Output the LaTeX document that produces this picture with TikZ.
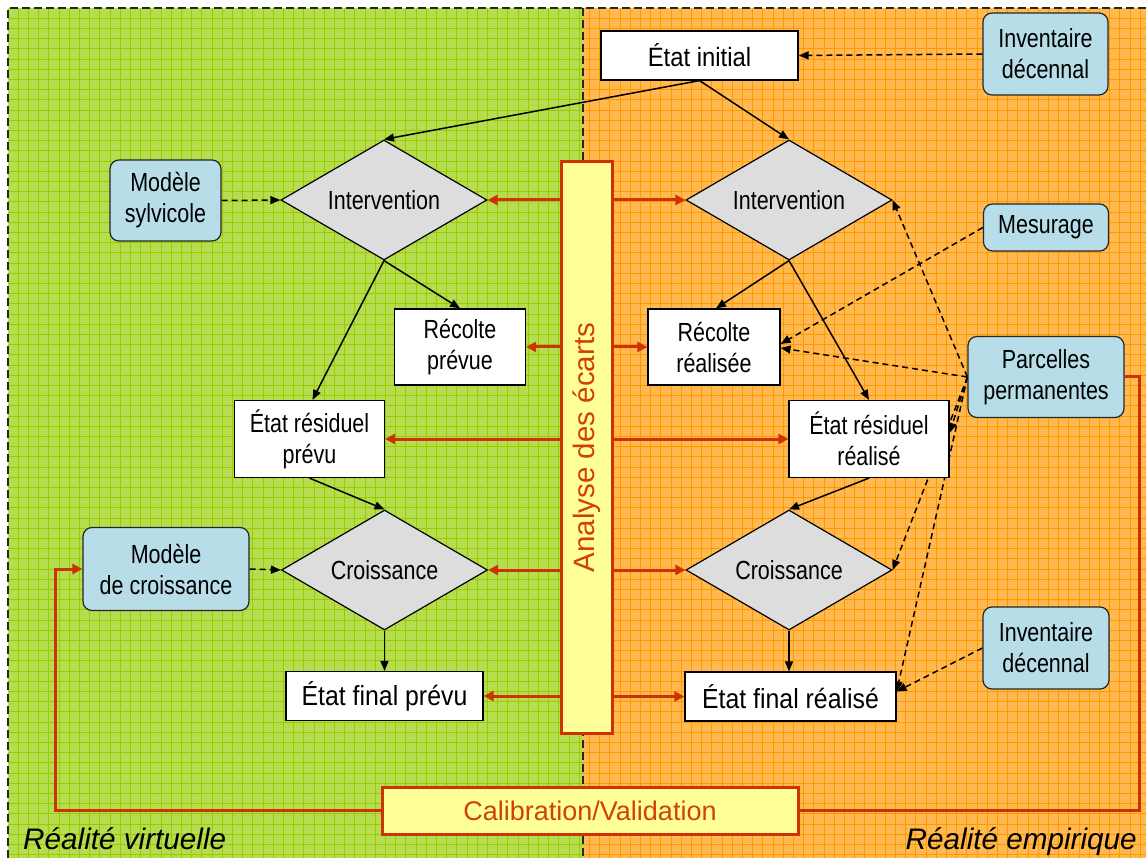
\documentclass[tikz,border=0pt]{standalone}
\usepackage{fontspec}
\setmainfont{Liberation Sans}
\newfontfamily\narsans[FakeStretch=0.82]{Liberation Sans}
\newfontfamily\midsans[FakeStretch=0.9]{Liberation Sans}
\usetikzlibrary{shapes.geometric,arrows.meta,calc}
\definecolor{gbg}{RGB}{182,220,80}
\definecolor{gline}{RGB}{153,204,0}
\definecolor{obg}{RGB}{255,185,80}
\definecolor{oline}{RGB}{255,153,0}
\definecolor{rred}{RGB}{204,51,0}
\definecolor{ytxt}{RGB}{210,64,10}
\definecolor{yel}{RGB}{255,255,153}
\definecolor{lblue}{RGB}{183,222,232}
\definecolor{dgrey}{RGB}{221,221,221}
\definecolor{bord}{RGB}{40,40,20}
\pgfdeclarelayer{bg}
\pgfdeclarelayer{edges}
\pgfsetlayers{bg,edges,main}
\tikzset{
  box/.style={draw=black, fill=white, line width=1.2pt, align=center, inner sep=2pt,
    font=\narsans\fontsize{26.2}{31}\selectfont},
  rbox/.style={box, fill=lblue, rounded corners=9pt, draw=black!85},
  dia/.style={diamond, shape aspect=2, draw=black, fill=dgrey, line width=1.2pt, inner sep=0pt,
    minimum width=206pt, minimum height=120pt, font=\narsans\fontsize{26.2}{30}\selectfont},
  ybox/.style={draw=rred, fill=yel, line width=3pt, inner sep=0pt, text=ytxt},
  arr/.style={draw=black, line width=1.5pt, -{Triangle[length=10pt,width=8pt]}},
  darr/.style={arr, dash pattern=on 6pt off 4pt},
  rarr/.style={draw=rred, line width=3pt, -{Triangle[length=10pt,width=10pt]}},
  rline/.style={draw=rred, line width=3pt},
  divider/.style={draw=bord, line width=1.5pt, dash pattern=on 8pt off 4pt},
  lbl/.style={font=\fontsize{29.7}{32}\selectfont\itshape, inner sep=0pt}
}
\begin{document}
\begin{tikzpicture}[x=1pt,y=-1pt]
\useasboundingbox (0,0) rectangle (1146,858);

% ---------- background ----------
\begin{pgfonlayer}{bg}
\fill[white] (0,0) rectangle (1146,858);
\begin{scope}
  \clip (8,8) rectangle (583,858);
  \fill[gbg] (8,8) rectangle (583,858);
  \foreach \i in {1,...,57} \draw[gline, line width=0.9pt] ({8+10.2*\i},8) -- ({8+10.2*\i},858);
  \foreach \i in {1,...,84} \draw[gline, line width=0.9pt] (8,{8+10.2*\i}) -- (583,{8+10.2*\i});
\end{scope}
\begin{scope}
  \clip (583,8) rectangle (1146,858);
  \fill[obg] (583,8) rectangle (1146,858);
  \foreach \i in {56,...,112} \draw[oline, line width=0.9pt] ({8+10.2*\i},8) -- ({8+10.2*\i},858);
  \foreach \i in {1,...,84} \draw[oline, line width=0.9pt] (583,{8+10.2*\i}) -- (1146,{8+10.2*\i});
\end{scope}
\draw[divider] (8,858) -- (8,8) -- (1146,8);
\draw[divider] (583,8) -- (583,858);
\end{pgfonlayer}

% ---------- nodes ----------
\node[box, minimum width=197pt, minimum height=49pt, font=\midsans\fontsize{26.5}{30}\selectfont] (etatI) at (699.5,55.5) {État initial};
\node[rbox, minimum width=125pt, minimum height=82pt] (invT) at (1045.5,54) {Inventaire\\décennal};
\node[dia] (intL) at (384,200) {Intervention};
\node[dia] (intR) at (789,200) {Intervention};
\node[rbox, minimum width=111pt, minimum height=81pt] (msyl) at (165.5,200.5) {Modèle\\sylvicole};
\node[rbox, minimum width=125pt, minimum height=47pt] (mes) at (1046,227.5) {Mesurage};
\node[ybox, minimum width=51pt, minimum height=571pt] (ana) at (587,447.5) {};
\node[rotate=90, text=ytxt, font=\fontsize{29.5}{32}\selectfont, inner sep=0pt] (anatxt) at (ana.center) {Analyse des écarts};
\node[box, minimum width=131pt, minimum height=76pt] (recP) at (460,347) {Récolte\\prévue};
\node[box, minimum width=132pt, minimum height=76pt] (recR) at (714,347) {Récolte\\réalisée};
\node[box, minimum width=150pt, minimum height=77pt] (resP) at (309.5,439) {État résiduel\\prévu};
\node[box, minimum width=160pt, minimum height=77pt] (resR) at (869,439) {État résiduel\\réalisé};
\node[rbox, minimum width=156pt, minimum height=81pt] (parc) at (1046,377) {Parcelles\\permanentes};
\node[dia] (croL) at (384.5,570) {Croissance};
\node[dia] (croR) at (789,570) {Croissance};
\node[rbox, minimum width=166pt, minimum height=83pt] (mcro) at (166,569) {Modèle\\de croissance};
\node[rbox, minimum width=126pt, minimum height=82pt] (invB) at (1046,648) {Inventaire\\décennal};
\node[box, minimum width=197pt, minimum height=49pt, font=\midsans\fontsize{27.6}{30}\selectfont] (finP) at (384.5,696) {État final prévu};
\node[box, minimum width=211pt, minimum height=49pt, font=\midsans\fontsize{27.6}{30}\selectfont] (finR) at (790.5,696.5) {État final réalisé};
\node[ybox, minimum width=416pt, minimum height=47pt, font=\fontsize{27}{30}\selectfont] (calib) at (590,810.5) {Calibration/Validation};
\node[lbl, anchor=base west] (lv) at (23,849) {Réalité virtuelle};
\node[lbl, anchor=base east] (le) at (1137,849) {Réalité empirique};

\coordinate (cl1) at (55,810.5);
\coordinate (cl2) at (55,569);
\coordinate (cr1) at (1139,810.5);
\coordinate (cr2) at (1139,377);

% ---------- connectors ----------
\begin{pgfonlayer}{edges}
% solid flow
\draw[arr] (etatI.south) -- (intL.north);
\draw[arr] (etatI.south) -- (intR.north);
\draw[arr] (intL.south) -- (recP.north);
\draw[arr] (intL.south) -- ([xshift=3pt]resP.north);
\draw[arr] (intR.south) -- ([xshift=2pt]recR.north);
\draw[arr] (intR.south) -- (resR.north);
\draw[arr] (resP.south) -- (croL.north);
\draw[arr] (resR.south) -- (croR.north);
\draw[arr] (croL.south) -- (finP.north);
\draw[arr] (croR.south) -- ([xshift=-1.5pt]finR.north);
% dashed inputs
\draw[darr] (invT.west) -- (etatI.east);
\draw[darr] (msyl.east) -- (intL.west);
\draw[darr] (mcro.east) -- (croL.west);
\draw[darr] (mes.west) -- ([yshift=3pt]recR.east);
\draw[darr] (parc.west) -- (intR.east);
\draw[darr] (parc.west) -- ([yshift=-1pt]recR.east);
\draw[darr] (parc.west) -- ([yshift=6pt]resR.east);
\draw[darr] (parc.west) -- (croR.east);
\draw[darr] (parc.west) -- ([yshift=5pt]finR.east);
\draw[darr] (invB.west) -- ([yshift=5pt]finR.east);
% red comparisons
\draw[rarr] (ana.west |- intL.east) -- (intL.east);
\draw[rarr] (ana.east |- intR.west) -- (intR.west);
\draw[rarr] (ana.west |- recP.east) -- (recP.east);
\draw[rarr] (ana.east |- recR.west) -- (recR.west);
\draw[rarr] (ana.west |- resP.east) -- (resP.east);
\draw[rarr] (ana.east |- resR.west) -- (resR.west);
\draw[rarr] (ana.west |- croL.east) -- (croL.east);
\draw[rarr] (ana.east |- croR.west) -- (croR.west);
\draw[rarr] (ana.west |- finP.east) -- (finP.east);
\draw[rarr] (ana.east |- finR.west) -- (finR.west);
% calibration loop
\draw[rarr] (calib.west) -- (cl1) -- (cl2) -- (mcro.west);
\draw[rline] (calib.east) -- (cr1) -- (cr2) -- (parc.east);
\end{pgfonlayer}
\end{tikzpicture}
\end{document}
